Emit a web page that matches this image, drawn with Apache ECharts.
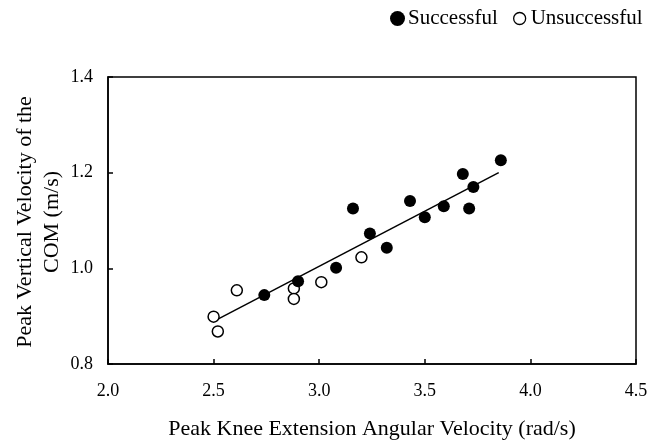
<!DOCTYPE html>
<html>
<head>
<meta charset="utf-8">
<script src="https://cdn.jsdelivr.net/npm/echarts@6/dist/echarts.min.js"></script>
<style>html,body{margin:0;padding:0;background:#fff;}#c{width:660px;height:445px;}</style>
</head>
<body>
<div id="c"></div>
<script>
var successfulX = [2.74, 2.90, 3.08, 3.16, 3.24, 3.32, 3.43, 3.50, 3.59, 3.68, 3.71, 3.73, 3.86];
var successfulY = [0.944, 0.973, 1.001, 1.125, 1.073, 1.043, 1.141, 1.107, 1.130, 1.197, 1.125, 1.170, 1.226];
var unsuccessfulX = [2.50, 2.52, 2.61, 2.88, 2.88, 3.01, 3.20];
var unsuccessfulY = [0.899, 0.868, 0.954, 0.958, 0.936, 0.971, 1.023];
var fitX = [2.50, 3.85];
var fitY = [0.889, 1.200];
var xTicks = [2.0, 2.5, 3.0, 3.5, 4.0, 4.5];
var yTicks = [0.8, 1.0, 1.2, 1.4];
var yTitleLines = ['Peak Vertical Velocity of the', 'COM (m/s)'];

function zip(a, b) { return a.map(function (v, i) { return [v, b[i]]; }); }
var serif = '"Liberation Serif", "Times New Roman", serif';

var chart = echarts.init(document.getElementById('c'), null, {renderer: 'canvas'});
chart.setOption({
  animation: false,
  backgroundColor: '#fff',
  textStyle: {fontFamily: serif, color: '#000'},
  grid: {left: 108, right: 24, top: 77, bottom: 79, show: true, borderColor: '#000', borderWidth: 1.5, backgroundColor: 'transparent'},
  legend: [
    {
      left: 390, top: 8, padding: 0, itemWidth: 15, itemHeight: 15, itemGap: 0,
      textStyle: {fontFamily: serif, fontSize: 21, color: '#000', padding: [0, 0, 0, -2]},
      data: [{name: 'Successful', icon: 'circle', itemStyle: {color: '#000', borderColor: '#000', borderWidth: 0}}]
    },
    {
      left: 513, top: 8, padding: 0, itemWidth: 12, itemHeight: 12, itemGap: 0,
      textStyle: {fontFamily: serif, fontSize: 21, color: '#000'},
      data: [{name: 'Unsuccessful', icon: 'circle', itemStyle: {color: '#fff', borderColor: '#000', borderWidth: 1.3}}]
    }
  ],
  xAxis: {
    type: 'value', min: xTicks[0], max: xTicks[xTicks.length - 1], interval: 0.5,
    name: 'Peak Knee Extension Angular Velocity (rad/s)', nameLocation: 'middle', nameGap: 54,
    nameTextStyle: {fontFamily: serif, fontSize: 22, color: '#000'},
    axisLine: {lineStyle: {color: '#000', width: 1.5}},
    axisTick: {inside: true, length: 5, lineStyle: {color: '#000', width: 1.5}},
    axisLabel: {fontFamily: serif, fontSize: 18, color: '#000', margin: 18, formatter: function (v) { return v.toFixed(1); }},
    splitLine: {show: false}
  },
  yAxis: {
    type: 'value', min: yTicks[0], max: yTicks[yTicks.length - 1], interval: 0.2,
    axisLine: {lineStyle: {color: '#000', width: 1.5}},
    axisTick: {inside: true, length: 5, lineStyle: {color: '#000', width: 1.5}},
    axisLabel: {fontFamily: serif, fontSize: 18, color: '#000', margin: 15, formatter: function (v) { return v.toFixed(1); }},
    splitLine: {show: false}
  },
  graphic: [
    {type: 'text', x: 25, y: 222, rotation: Math.PI / 2,
     style: {text: yTitleLines[0], font: '22px ' + serif, fill: '#000', align: 'center', verticalAlign: 'middle'}},
    {type: 'text', x: 52, y: 222, rotation: Math.PI / 2,
     style: {text: yTitleLines[1], font: '22px ' + serif, fill: '#000', align: 'center', verticalAlign: 'middle'}}
  ],
  series: [
    {name: 'Fit', type: 'line', data: zip(fitX, fitY), symbol: 'none', lineStyle: {color: '#000', width: 1.5}, z: 1, silent: true},
    {name: 'Successful', type: 'scatter', data: zip(successfulX, successfulY), symbol: 'circle', symbolSize: 12,
     itemStyle: {color: '#000', borderColor: '#000', borderWidth: 0, opacity: 1}, z: 3},
    {name: 'Unsuccessful', type: 'scatter', data: zip(unsuccessfulX, unsuccessfulY), symbol: 'circle', symbolSize: 11,
     itemStyle: {color: '#fff', borderColor: '#000', borderWidth: 1.5, opacity: 1}, z: 2}
  ]
});
</script>
</body>
</html>
